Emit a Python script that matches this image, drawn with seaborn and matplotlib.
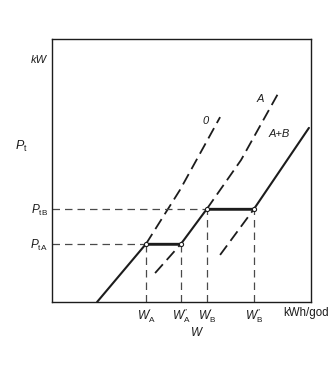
import matplotlib
matplotlib.use("Agg")
import matplotlib.pyplot as plt
import numpy as np
import pandas as pd
import seaborn as sns

sns.set_style("white")
plt.rcParams["font.family"] = ["Liberation Sans", "DejaVu Sans"]
plt.rcParams["mathtext.fontset"] = "custom"
plt.rcParams["mathtext.rm"] = "Liberation Sans"
plt.rcParams["mathtext.it"] = "Liberation Sans:italic"
plt.rcParams["mathtext.bf"] = "Liberation Sans:bold"

# Load-duration curves: energy W (x) versus peak power P_t (y)
curve_0_w = [17.4, 36.3, 49.4, 64.9]
curve_0_p = [0.0, 22.1, 42.6, 70.3]
curve_a_w = [39.8, 49.8, 59.8, 73.0, 87.6]
curve_a_p = [11.0, 22.1, 35.4, 54.0, 79.8]
curve_ab_w = [64.9, 78.0, 99.2]
curve_ab_p = [17.9, 35.4, 66.2]

# Tariff thresholds and the energies where they are met
p_levels = [22.1, 35.4]
p_labels = [r"$P_\mathrm{tA}$", r"$P_\mathrm{tB}$"]
w_points = [36.3, 49.8, 59.8, 78.0]
w_labels = ["$W^{\u2032}_\\mathrm{A}$", "$W^{\u2033}_\\mathrm{A}$",
            "$W^{\u2032}_\\mathrm{B}$", "$W^{\u2033}_\\mathrm{B}$"]

curve_names = ["0", "A", "A+B"]

fig = plt.figure(figsize=(3.30, 3.71), dpi=100)
ax = fig.add_axes([52 / 330, 69 / 371, 259 / 330, 263 / 371])
ax.set_xlim(0, 100)
ax.set_ylim(0, 100)

ink = "#1c1c1c"
grey = "#4a4a4a"

w0, p0 = np.array(curve_0_w), np.array(curve_0_p)
wa, pa = np.array(curve_a_w), np.array(curve_a_p)
wab, pab = np.array(curve_ab_w), np.array(curve_ab_p)
pA, pB = p_levels


def seg(w, p, mask):
    return pd.DataFrame({"W": w[mask], "P": p[mask]})


dash_kw = dict(color=ink, lw=1.3, dashes=(6.5, 3.2), sort=False, estimator=None, legend=False)
# dashed (hypothetical) parts of each curve
for df in [seg(w0, p0, p0 >= pA), seg(wa, pa, pa <= pA), seg(wa, pa, pa >= pB), seg(wab, pab, pab <= pB)]:
    sns.lineplot(data=df, x="W", y="P", ax=ax, **dash_kw)

# effective characteristic (solid) with the flat steps at the thresholds
solid = pd.concat([
    seg(w0, p0, p0 <= pA),
    seg(wa, pa, (pa >= pA) & (pa <= pB)),
    seg(wab, pab, pab >= pB),
], ignore_index=True)
sns.lineplot(data=solid, x="W", y="P", ax=ax, color=ink, lw=1.5, sort=False,
             estimator=None, legend=False)
# horizontal steps
for i in range(2):
    ax.plot([w_points[2 * i], w_points[2 * i + 1]], [p_levels[i]] * 2, color=ink, lw=1.8,
            solid_capstyle="butt", zorder=3)

# reference lines to the axes
ref_kw = dict(color=grey, lw=0.9, dashes=(6, 4))
ax.plot([0, w_points[0]], [pA, pA], **ref_kw)
ax.plot([0, w_points[2]], [pB, pB], **ref_kw)
for i, w in enumerate(w_points):
    ax.plot([w, w], [0, p_levels[i // 2]], **ref_kw)

ax.scatter(w_points, [pA, pA, pB, pB], s=9, facecolor="white", edgecolor=ink, lw=0.8, zorder=4)

# curve labels
ax.text(59.5, 69.0, curve_names[0], style="italic", fontsize=8, ha="center", va="center", color=ink)
ax.text(80.3, 77.0, curve_names[1], style="italic", fontsize=8, ha="center", va="center", color=ink)
ax.text(87.6, 63.9, curve_names[2], style="italic", fontsize=8, ha="center", va="center", color=ink)

ax.set_xticks(w_points)
ax.set_xticklabels(w_labels, fontsize=8.5)
ax.set_yticks(p_levels)
ax.set_yticklabels(p_labels, fontsize=8.5)
ax.tick_params(length=0, pad=3, colors=ink)

ax.text(-0.02, 0.92, "kW", transform=ax.transAxes, style="italic", fontsize=8,
        ha="right", va="center", color=ink)
ax.text(-0.12, 0.59, r"$P_\mathrm{t}$", transform=ax.transAxes, fontsize=9,
        ha="center", va="center", color=ink)
ax.text(0.892, -0.042, "kWh/god", transform=ax.transAxes, fontsize=8.3,
        ha="left", va="center", color=ink)
ax.text(0.56, -0.115, r"$W$", transform=ax.transAxes, fontsize=8.5,
        ha="center", va="center", color=ink)

ax.set_xlabel("")
ax.set_ylabel("")
for sp in ax.spines.values():
    sp.set_visible(True)
    sp.set_color(ink)
    sp.set_linewidth(1.0)

fig.savefig("out.png", dpi=100, facecolor="white")
